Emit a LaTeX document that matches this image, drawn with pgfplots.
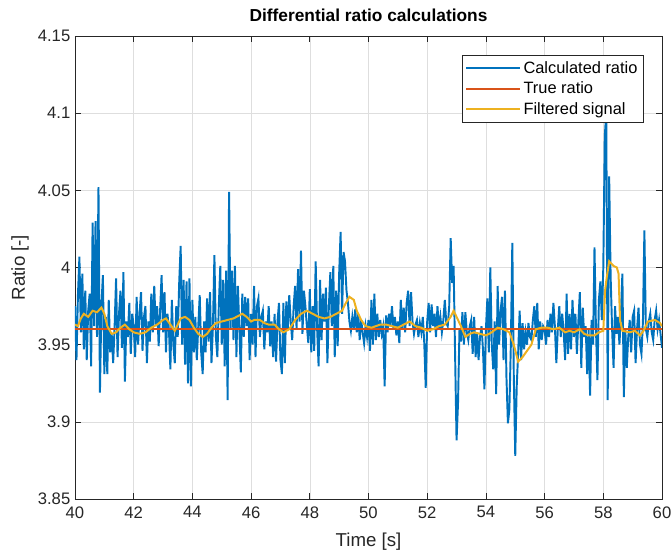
\documentclass[border=0pt]{standalone}
\usepackage{fontspec}
\setmainfont{Liberation Sans}
\usepackage{pgfplots}
\pgfplotsset{compat=1.18}
\definecolor{mblue}{rgb}{0,0.447,0.741}
\definecolor{mred}{rgb}{0.85,0.325,0.098}
\definecolor{myel}{rgb}{0.929,0.694,0.125}
\definecolor{axgray}{gray}{0.15}
\begin{document}
\begin{tikzpicture}[x=1pt,y=1pt]
\path[use as bounding box] (-56.25,-40.5) rectangle (447,374.25);
\begin{axis}[
  at={(0,0)}, anchor=south west,
  width=440.25pt, height=347.25pt, scale only axis,
  xmin=40, xmax=60, ymin=3.85, ymax=4.15,
  xtick={40,42,44,46,48,50,52,54,56,58,60},
  ytick={3.85,3.9,3.95,4,4.05,4.1,4.15},
  grid=major,
  major grid style={line width=0.4pt, color=black!13},
  axis line style={axgray, line width=0.5pt},
  tick style={axgray, line width=0.5pt},
  major tick length=4.5pt,
  tick align=inside,
  /pgf/number format/assume math mode=true,
  ticklabel style={font=\fontsize{12.5}{14}\selectfont, text=axgray},
  xticklabel style={yshift=-2pt},
  yticklabel style={/pgf/number format/fixed, /pgf/number format/precision=2},
  xlabel={Time [s]}, ylabel={Ratio [-]},
  label style={font=\fontsize{14}{16}\selectfont, text=axgray},
  xlabel style={yshift=-4pt},
  title={Differential ratio calculations},
  title style={font=\bfseries\fontsize{13}{15}\selectfont, text=black, yshift=1.5pt},
  legend style={at={(0.969,0.959)}, anchor=north east, draw=axgray, line width=0.5pt,
    font=\fontsize{12.3}{14}\selectfont, text=black, cells={anchor=west}, row sep=1pt, inner sep=2.5pt},
  legend image code/.code={\draw[#1, line width=1.6pt] (0pt,0pt) -- (40pt,0pt);},
]
\addplot[mblue, line width=1.45pt] coordinates {
(40.00,3.975) (40.05,3.940) (40.10,3.982) (40.15,4.007) (40.20,3.958) (40.25,3.996) (40.30,3.947) (40.35,3.985) (40.40,3.940) (40.45,3.972) (40.50,3.983) (40.55,3.936) (40.60,4.029) (40.65,3.962) (40.70,4.030) (40.75,3.955) (40.80,4.052) (40.85,3.919) (40.90,3.975) (40.95,3.995)
(41.00,3.931) (41.05,3.968) (41.10,3.931) (41.15,3.979) (41.20,3.945) (41.25,3.957) (41.30,3.938) (41.35,3.962) (41.40,3.993) (41.45,3.942) (41.50,3.970) (41.55,3.985) (41.60,3.948) (41.65,3.997) (41.70,3.926) (41.75,3.965) (41.80,3.955) (41.85,3.977) (41.90,3.944) (41.95,3.970)
(42.00,3.962) (42.05,3.942) (42.10,3.981) (42.15,3.950) (42.20,3.970) (42.25,3.984) (42.30,3.946) (42.35,3.968) (42.40,3.975) (42.45,3.938) (42.50,3.965) (42.55,3.952) (42.60,3.983) (42.65,3.958) (42.70,3.988) (42.75,3.962) (42.80,3.975) (42.85,3.949) (42.90,3.972) (42.95,3.995)
(43.00,3.958) (43.05,3.984) (43.10,3.945) (43.15,3.970) (43.20,3.960) (43.25,3.934) (43.30,3.979) (43.35,3.950) (43.40,3.938) (43.45,3.975) (43.50,3.955) (43.55,3.990) (43.60,4.014) (43.65,3.950) (43.70,3.992) (43.75,3.937) (43.80,3.991) (43.85,3.925) (43.90,3.993) (43.95,3.923)
(44.00,3.979) (44.05,3.945) (44.10,3.968) (44.15,3.940) (44.20,3.962) (44.25,3.982) (44.30,3.945) (44.35,3.931) (44.40,3.965) (44.45,3.945) (44.50,3.980) (44.55,3.952) (44.60,3.984) (44.65,3.938) (44.70,3.962) (44.75,4.008) (44.80,3.955) (44.85,3.942) (44.90,3.975) (44.95,4.001)
(45.00,3.950) (45.05,3.992) (45.10,3.936) (45.15,3.998) (45.20,3.914) (45.25,4.049) (45.30,3.960) (45.35,3.998) (45.40,3.953) (45.45,4.001) (45.50,3.942) (45.55,3.988) (45.60,3.960) (45.65,3.932) (45.70,3.983) (45.75,3.955) (45.80,3.981) (45.85,3.962) (45.90,3.980) (45.95,3.940)
(46.00,3.970) (46.05,3.950) (46.10,3.988) (46.15,3.942) (46.20,3.975) (46.25,3.980) (46.30,3.955) (46.35,3.968) (46.40,3.972) (46.45,3.947) (46.50,3.965) (46.55,3.958) (46.60,3.975) (46.65,3.949) (46.70,3.965) (46.75,3.942) (46.80,3.970) (46.85,3.939) (46.90,3.965) (46.95,3.977)
(47.00,3.940) (47.05,3.931) (47.10,3.977) (47.15,3.938) (47.20,3.978) (47.25,3.960) (47.30,3.982) (47.35,3.965) (47.40,3.953) (47.45,3.975) (47.50,3.988) (47.55,3.960) (47.60,3.999) (47.65,3.965) (47.70,4.011) (47.75,3.957) (47.80,3.985) (47.85,3.975) (47.90,3.962) (47.95,3.951)
(48.00,3.986) (48.05,3.945) (48.10,3.975) (48.15,3.946) (48.20,4.004) (48.25,3.960) (48.30,3.936) (48.35,3.992) (48.40,3.953) (48.45,3.983) (48.50,3.965) (48.55,3.987) (48.60,3.938) (48.65,3.975) (48.70,3.997) (48.75,3.962) (48.80,4.001) (48.85,3.942) (48.90,3.985) (48.95,3.949)
(49.00,3.996) (49.05,4.023) (49.10,3.970) (49.15,4.010) (49.20,4.004) (49.25,3.985) (49.30,3.977) (49.35,3.965) (49.40,3.959) (49.45,3.968) (49.50,3.960) (49.55,3.973) (49.60,3.958) (49.65,3.970) (49.70,3.953) (49.75,3.966) (49.80,3.958) (49.85,3.951) (49.90,3.962) (49.95,3.955)
(50.00,3.966) (50.05,3.946) (50.10,3.979) (50.15,3.950) (50.20,3.983) (50.25,3.953) (50.30,3.970) (50.35,3.955) (50.40,3.966) (50.45,3.957) (50.50,3.962) (50.55,3.923) (50.60,3.969) (50.65,3.958) (50.70,3.970) (50.75,3.962) (50.80,3.975) (50.85,3.960) (50.90,3.968) (50.95,3.956)
(51.00,3.965) (51.05,3.951) (51.10,3.979) (51.15,3.960) (51.20,3.974) (51.25,3.958) (51.30,3.977) (51.35,3.985) (51.40,3.962) (51.45,3.984) (51.50,3.965) (51.55,3.957) (51.60,3.963) (51.65,3.966) (51.70,3.955) (51.75,3.964) (51.80,3.958) (51.85,3.968) (51.90,3.951) (51.95,3.922)
(52.00,3.965) (52.05,3.977) (52.10,3.958) (52.15,3.976) (52.20,3.962) (52.25,3.970) (52.30,3.955) (52.35,3.975) (52.40,3.960) (52.45,3.968) (52.50,3.958) (52.55,3.966) (52.60,3.979) (52.65,3.964) (52.70,3.962) (52.75,3.975) (52.80,4.019) (52.85,3.990) (52.90,4.001) (52.95,3.944)
(53.00,3.888) (53.05,3.912) (53.10,3.960) (53.15,3.952) (53.20,3.971) (53.25,3.950) (53.30,3.971) (53.35,3.958) (53.40,3.953) (53.45,3.962) (53.50,3.966) (53.55,3.944) (53.60,3.968) (53.65,3.942) (53.70,3.958) (53.75,3.940) (53.80,3.955) (53.85,3.962) (53.90,3.947) (53.95,3.921)
(54.00,3.960) (54.05,3.980) (54.10,3.945) (54.15,4.000) (54.20,3.950) (54.25,3.934) (54.30,3.965) (54.35,3.918) (54.40,3.988) (54.45,3.950) (54.50,3.972) (54.55,3.981) (54.60,3.940) (54.65,3.985) (54.70,3.929) (54.75,3.899) (54.80,3.908) (54.85,3.950) (54.90,4.016) (54.95,3.930)
(55.00,3.878) (55.05,3.923) (55.10,3.945) (55.15,3.972) (55.20,3.940) (55.25,3.964) (55.30,3.947) (55.35,3.958) (55.40,3.950) (55.45,3.964) (55.50,3.955) (55.55,3.953) (55.60,3.966) (55.65,3.975) (55.70,3.955) (55.75,3.977) (55.80,3.947) (55.85,3.965) (55.90,3.953) (55.95,3.962)
(56.00,3.960) (56.05,3.950) (56.10,3.966) (56.15,3.955) (56.20,3.970) (56.25,3.958) (56.30,3.977) (56.35,3.962) (56.40,3.938) (56.45,3.960) (56.50,3.975) (56.55,3.955) (56.60,3.970) (56.65,3.958) (56.70,3.940) (56.75,3.983) (56.80,3.944) (56.85,3.970) (56.90,3.947) (56.95,3.979)
(57.00,3.955) (57.05,3.970) (57.10,3.944) (57.15,3.965) (57.20,3.984) (57.25,3.935) (57.30,3.974) (57.35,3.955) (57.40,3.962) (57.45,3.931) (57.50,3.960) (57.55,3.917) (57.60,3.966) (57.65,3.950) (57.70,4.013) (57.75,3.960) (57.80,3.927) (57.85,3.979) (57.90,3.991) (57.95,3.966)
(58.00,4.000) (58.05,4.085) (58.10,4.100) (58.15,3.914) (58.20,4.059) (58.25,3.994) (58.30,3.960) (58.35,3.935) (58.40,3.975) (58.45,3.957) (58.50,3.968) (58.55,3.950) (58.60,3.970) (58.65,3.996) (58.70,3.916) (58.75,3.960) (58.80,3.935) (58.85,3.955) (58.90,3.966) (58.95,3.945)
(59.00,3.968) (59.05,3.972) (59.10,3.938) (59.15,3.960) (59.20,3.974) (59.25,3.950) (59.30,3.944) (59.35,3.965) (59.40,4.024) (59.45,3.960) (59.50,3.955) (59.55,3.965) (59.60,3.970) (59.65,3.958) (59.70,3.953) (59.75,3.966) (59.80,3.972) (59.85,3.960) (59.90,3.966) (59.95,3.957)
(60.00,3.948)
};
\addlegendentry{Calculated ratio}
\addplot[mred, line width=1.8pt] coordinates {(40,3.96) (60,3.96)};
\addlegendentry{True ratio}
\addplot[myel, line width=1.5pt] coordinates {
(40.00,3.963) (40.10,3.962) (40.20,3.967) (40.30,3.970) (40.45,3.968) (40.60,3.972) (40.75,3.971) (40.90,3.974) (41.00,3.970) (41.10,3.962) (41.25,3.957) (41.40,3.958) (41.55,3.961) (41.70,3.963) (41.85,3.960) (42.00,3.958) (42.20,3.957) (42.40,3.958) (42.60,3.961) (42.80,3.963)
(43.00,3.966) (43.10,3.967) (43.25,3.963) (43.40,3.959) (43.50,3.963) (43.60,3.967) (43.75,3.968) (43.90,3.966) (44.05,3.961) (44.20,3.957) (44.35,3.955) (44.50,3.957) (44.65,3.961) (44.80,3.964) (45.00,3.965) (45.20,3.966) (45.40,3.967) (45.60,3.969) (45.70,3.970) (45.85,3.968)
(46.00,3.965) (46.10,3.966) (46.30,3.966) (46.45,3.964) (46.60,3.963) (46.80,3.963) (46.95,3.960) (47.10,3.958) (47.30,3.960) (47.50,3.966) (47.70,3.970) (47.90,3.972) (48.10,3.970) (48.30,3.968) (48.50,3.967) (48.70,3.968) (48.90,3.970) (49.10,3.972) (49.20,3.976) (49.35,3.981)
(49.50,3.979) (49.60,3.972) (49.75,3.966) (49.90,3.962) (50.10,3.961) (50.25,3.962) (50.40,3.963) (50.60,3.963) (50.80,3.962) (51.00,3.961) (51.20,3.963) (51.40,3.965) (51.60,3.962) (51.80,3.961) (52.00,3.959) (52.20,3.960) (52.40,3.962) (52.60,3.963) (52.80,3.968) (52.90,3.972)
(53.00,3.968) (53.15,3.962) (53.30,3.955) (53.45,3.957) (53.60,3.958) (53.80,3.957) (54.00,3.956) (54.20,3.958) (54.40,3.961) (54.60,3.960) (54.80,3.958) (54.95,3.950) (55.10,3.939) (55.25,3.942) (55.40,3.946) (55.55,3.950) (55.70,3.960) (55.90,3.961) (56.10,3.961) (56.30,3.960)
(56.50,3.961) (56.70,3.958) (56.85,3.959) (57.00,3.958) (57.20,3.960) (57.35,3.957) (57.50,3.956) (57.70,3.956) (57.85,3.958) (58.00,3.959) (58.06,3.985) (58.12,3.994) (58.20,4.004) (58.35,4.001) (58.46,4.000) (58.52,3.996) (58.57,3.966) (58.65,3.959) (58.90,3.958) (59.08,3.959)
(59.25,3.956) (59.37,3.959) (59.42,3.961) (59.52,3.965) (59.76,3.966) (59.93,3.964) (60.00,3.962)
};
\addlegendentry{Filtered signal}
\end{axis}
\end{tikzpicture}
\end{document}
